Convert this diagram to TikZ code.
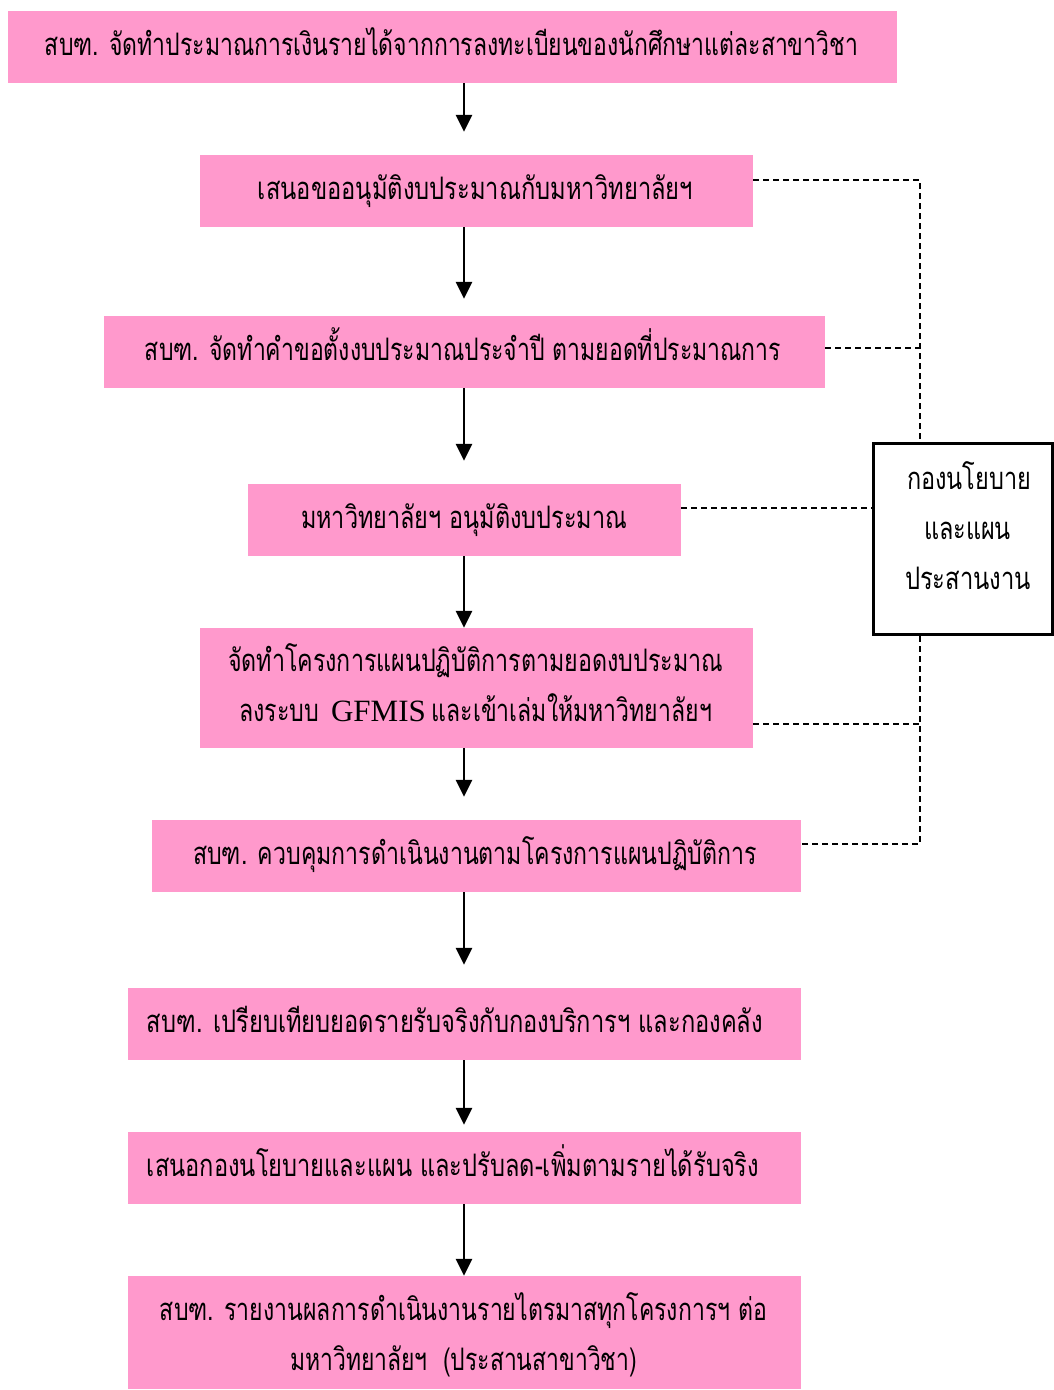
\documentclass[tikz,border=0pt]{standalone}
\usepackage{fontspec}
\setmainfont{Liberation Serif}
\newfontfamily\thaifont[Script=Thai]{Loma}
\usetikzlibrary{arrows.meta}
\definecolor{boxpink}{RGB}{255,153,204}
\newcommand\fitw[2]{\resizebox{#1pt}{\height}{\thaifont #2}}
\begin{document}
\begin{tikzpicture}[x=1pt,y=-1pt,
  box/.style={fill=boxpink, draw=none, inner sep=0, minimum height=72},
  lbl/.style={anchor=base, inner sep=0, font=\fontsize{31}{36}\selectfont},
  arr/.style={line width=2.6, -{Triangle[length=17,width=16]}},
  dashline/.style={line width=1.6, dash pattern=on 6 off 4},
  sidebox/.style={draw, line width=3, fill=white, inner sep=0}]
\useasboundingbox (0,0) rectangle (1054,1390);

% boxes
\node[box, minimum width=889] (b1) at (452.5,47) {};
\node[box, minimum width=553] (b2) at (476.5,191) {};
\node[box, minimum width=721] (b3) at (464.5,352) {};
\node[box, minimum width=433] (b4) at (464.5,520) {};
\node[box, minimum width=553, minimum height=120] (b5) at (476.5,688) {};
\node[box, minimum width=649] (b6) at (476.5,856) {};
\node[box, minimum width=673] (b7) at (464.5,1024) {};
\node[box, minimum width=673] (b8) at (464.5,1168) {};
\node[box, minimum width=673, minimum height=113] (b9) at (464.5,1332.5) {};
\node[sidebox, minimum width=179, minimum height=191] (side) at (963,539) {};

% texts
\node[lbl] (t1) at (451.5,55) {\fitw{813}{สบฑ. จัดทำประมาณการเงินรายได้จากการลงทะเบียนของนักศึกษาแต่ละสาขาวิชา}};
\node[lbl] (t2) at (475.5,199) {\fitw{435}{เสนอขออนุมัติงบประมาณกับมหาวิทยาลัยฯ}};
\node[lbl] (t3) at (463,360) {\fitw{636}{สบฑ. จัดทำคำขอตั้งงบประมาณประจำปี ตามยอดที่ประมาณการ}};
\node[lbl] (t4) at (464,528) {\fitw{326}{มหาวิทยาลัยฯ อนุมัติงบประมาณ}};
\node[lbl] (t5a) at (475.5,671) {\fitw{495}{จัดทำโครงการแผนปฏิบัติการตามยอดงบประมาณ}};
\node[lbl] (t5b) at (475.5,721) {\fitw{80}{ลงระบบ}\hspace{12pt}{\fontsize{31}{36}\selectfont GFMIS}\hspace{6pt}\fitw{280}{และเข้าเล่มให้มหาวิทยาลัยฯ}};
\node[lbl] (t6) at (475,864) {\fitw{564}{สบฑ. ควบคุมการดำเนินงานตามโครงการแผนปฏิบัติการ}};
\node[lbl] (t7) at (455,1032) {\fitw{616}{สบฑ. เปรียบเทียบยอดรายรับจริงกับกองบริการฯ และกองคลัง}};
\node[lbl] (t8) at (453,1176) {\fitw{612}{เสนอกองนโยบายและแผน และปรับลด-เพิ่มตามรายได้รับจริง}};
\node[lbl] (t9a) at (463.5,1320) {\fitw{607}{สบฑ. รายงานผลการดำเนินงานรายไตรมาสทุกโครงการฯ ต่อ}};
\node[lbl] (t9b) at (463.5,1370) {\fitw{347}{มหาวิทยาลัยฯ \ (ประสานสาขาวิชา)}};
\node[lbl] (s1) at (969,489) {\fitw{124}{กองนโยบาย}};
\node[lbl] (s2) at (967.5,539) {\fitw{87}{และแผน}};
\node[lbl] (s3) at (968,589) {\fitw{126}{ประสานงาน}};

% arrows
\coordinate (ax) at (464,0);
\draw[arr, shorten >=23] (b1.south -| ax) -- (b2.north -| ax);
\draw[arr, shorten >=17] (b2.south -| ax) -- (b3.north -| ax);
\draw[arr, shorten >=23] (b3.south -| ax) -- (b4.north -| ax);
\draw[arr, shorten >=0] (b4.south -| ax) -- (b5.north -| ax);
\draw[arr, shorten >=23] (b5.south -| ax) -- (b6.north -| ax);
\draw[arr, shorten >=23] (b6.south -| ax) -- (b7.north -| ax);
\draw[arr, shorten >=7] (b7.south -| ax) -- (b8.north -| ax);
\draw[arr, shorten >=0] (b8.south -| ax) -- (b9.north -| ax);

% dashed links
\coordinate (v1) at (920,180);
\coordinate (v3) at (920,348);
\coordinate (h4) at (0,508);
\coordinate (v5) at (920,724);
\coordinate (v6) at (920,844);
\draw[dashline] (b2.east |- v1) -- (v1) -- (side.north -| v1);
\draw[dashline] (b3.east |- v3) -- (v3);
\draw[dashline] (b4.east |- h4) -- (side.west |- h4);
\draw[dashline] (b5.east |- v5) -- (v5);
\draw[dashline] (side.south -| v1) -- (v6) -- (b6.east |- v6);
\end{tikzpicture}
\end{document}
